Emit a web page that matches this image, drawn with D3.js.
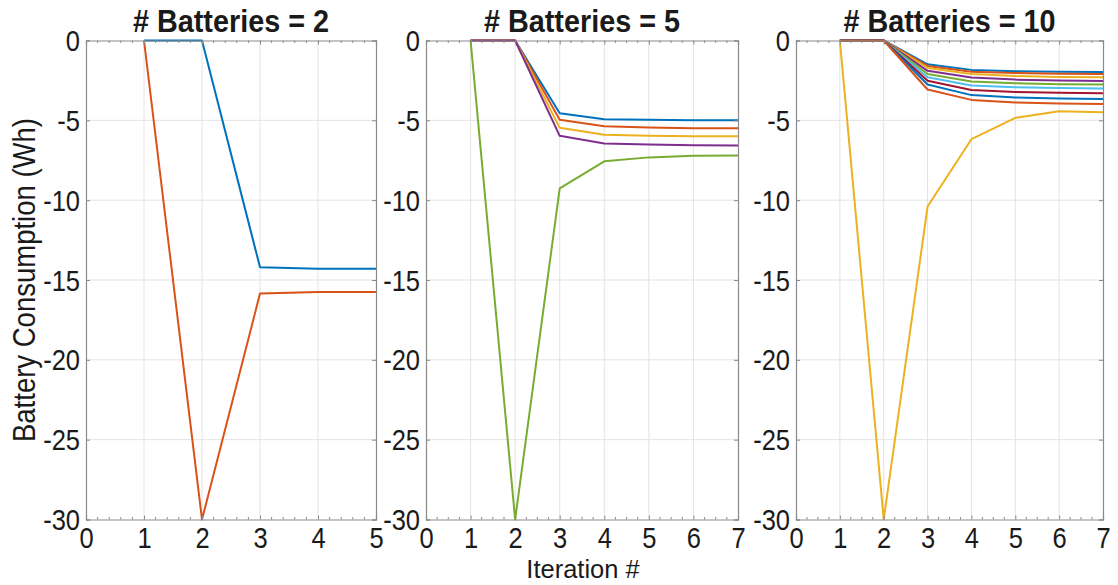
<!DOCTYPE html>
<html>
<head>
<meta charset="utf-8">
<script src="https://cdn.jsdelivr.net/npm/d3@7"></script>
<style>
  html, body { margin: 0; padding: 0; background: #fff; }
  svg text { font-family: "Liberation Sans", Arial, sans-serif; fill: #1a1a1a; }
</style>
</head>
<body>
<svg id="chart" width="1118" height="585"></svg>
<script>
// Battery consumption (Wh) per iteration for three fleet sizes
const iterations2 = [1, 2, 3, 4, 5];
const iterations5 = [1, 2, 3, 4, 5, 6, 7];
const iterations10 = [1, 2, 3, 4, 5, 6, 7];

const batteries2 = [
  [0, 0, -14.2, -14.3, -14.3],
  [0, -30, -15.85, -15.75, -15.75]
];

const batteries5 = [
  [0, 0, -4.55, -4.93, -4.97, -5.0, -5.0],
  [0, 0, -4.97, -5.37, -5.45, -5.49, -5.5],
  [0, 0, -5.47, -5.9, -5.96, -5.99, -6.0],
  [0, 0, -5.97, -6.45, -6.52, -6.56, -6.57],
  [0, -30, -9.26, -7.57, -7.32, -7.22, -7.2]
];

const batteries10 = [
  [0, 0, -1.49, -1.84, -1.92, -1.96, -1.97],
  [0, 0, -1.59, -1.95, -2.04, -2.08, -2.1],
  [0, 0, -1.72, -2.1, -2.23, -2.28, -2.3],
  [0, 0, -1.9, -2.32, -2.45, -2.51, -2.53],
  [0, 0, -2.1, -2.57, -2.68, -2.74, -2.76],
  [0, 0, -2.3, -2.82, -2.93, -2.98, -3.0],
  [0, 0, -2.52, -3.1, -3.22, -3.28, -3.3],
  [0, 0, -2.76, -3.42, -3.57, -3.64, -3.66],
  [0, 0, -3.07, -3.72, -3.88, -3.95, -3.97],
  [0, -30, -10.4, -6.18, -4.84, -4.43, -4.49]
];

const titles = ["# Batteries = 2", "# Batteries = 5", "# Batteries = 10"];
const xMax = [5, 7, 7];
const yTicks = [0, -5, -10, -15, -20, -25, -30];
const xLabel = "Iteration #";
const yLabel = "Battery Consumption (Wh)";

// MATLAB default line colour order
const colorOrder = ["#0072BD", "#D95319", "#EDB120", "#7E2F8E", "#77AC30", "#4DBEEE", "#A2142F"];

const panels = [
  { title: titles[0], xs: iterations2, series: batteries2, xMax: xMax[0], left: 86, right: 376, minorStep: 0.2 },
  { title: titles[1], xs: iterations5, series: batteries5, xMax: xMax[1], left: 426, right: 738, minorStep: 0.25 },
  { title: titles[2], xs: iterations10, series: batteries10, xMax: xMax[2], left: 796, right: 1103, minorStep: 0.25 }
];

const plotTop = 40.5, plotBottom = 519.5;
const svg = d3.select("#chart");

const y = d3.scaleLinear().domain([-30, 0]).range([plotBottom, plotTop]);

// horizontally narrow a text element about its own anchor point
function condense(sel, sx) {
  sel.each(function () {
    const t = d3.select(this);
    const x0 = +t.attr("x") || 0;
    t.attr("transform", `translate(${x0},0) scale(${sx},1) translate(${-x0},0)`);
  });
}

const tickFont = 29, tickSx = 0.88;

panels.forEach(p => {
  const x = d3.scaleLinear().domain([0, p.xMax]).range([p.left, p.right]);
  const g = svg.append("g");
  const xMajor = d3.range(0, p.xMax + 1);
  const xMinor = d3.range(0, p.xMax + 1e-9, p.minorStep).filter(v => Math.abs(v - Math.round(v)) > 1e-6);

  // grid
  g.append("g").selectAll("line").data(xMajor.slice(1, -1)).join("line")
    .attr("x1", d => x(d)).attr("x2", d => x(d)).attr("y1", plotTop).attr("y2", plotBottom)
    .attr("stroke", "#e3e3e3").attr("stroke-width", 1);
  g.append("g").selectAll("line").data(yTicks.slice(1, -1)).join("line")
    .attr("x1", p.left).attr("x2", p.right).attr("y1", d => y(d)).attr("y2", d => y(d))
    .attr("stroke", "#e3e3e3").attr("stroke-width", 1);

  // series
  const line = d3.line().x((d, i) => x(p.xs[i])).y(d => y(d));
  g.append("g").selectAll("path").data(p.series).join("path")
    .attr("d", d => line(d))
    .attr("fill", "none")
    .attr("stroke", (d, i) => colorOrder[i % colorOrder.length])
    .attr("stroke-width", 2)
    .attr("stroke-linejoin", "round");

  // axes with box
  const axisColor = "#8a8a8a";
  const tickLen = 4, minorLen = 2.5;
  const fmt = d => String(d);
  const ax = g.append("g");
  const bAxis = ax.append("g").attr("transform", `translate(0,${plotBottom})`)
    .call(d3.axisBottom(x).tickValues(xMajor).tickSize(-tickLen).tickFormat(fmt));
  const tAxis = ax.append("g").attr("transform", `translate(0,${plotTop})`)
    .call(d3.axisTop(x).tickValues(xMajor).tickSize(-tickLen).tickFormat(""));
  const lAxis = ax.append("g").attr("transform", `translate(${p.left},0)`)
    .call(d3.axisLeft(y).tickValues(yTicks).tickSize(-tickLen).tickPadding(6).tickFormat(fmt));
  const rAxis = ax.append("g").attr("transform", `translate(${p.right},0)`)
    .call(d3.axisRight(y).tickValues(yTicks).tickSize(-tickLen).tickFormat(""));
  [bAxis, tAxis, lAxis, rAxis].forEach(a => {
    a.select(".domain").attr("stroke", axisColor).attr("stroke-width", 1.2);
    a.selectAll(".tick line").attr("stroke", axisColor);
    a.selectAll("text").attr("font-size", tickFont).attr("fill", "#1a1a1a")
      .style("font-family", '"Liberation Sans", Arial, sans-serif');
  });
  bAxis.selectAll("text").attr("y", 29).attr("dy", null);
  lAxis.selectAll("text").attr("dy", "0.35em");
  condense(bAxis.selectAll("text"), tickSx);
  condense(lAxis.selectAll("text"), tickSx);

  // minor ticks on x
  [plotBottom, plotTop].forEach(yy => {
    const dir = yy === plotBottom ? -1 : 1;
    ax.append("g").selectAll("line").data(xMinor).join("line")
      .attr("x1", d => x(d)).attr("x2", d => x(d))
      .attr("y1", yy).attr("y2", yy + dir * minorLen)
      .attr("stroke", axisColor).attr("stroke-width", 1);
  });

  // title
  const title = g.append("text")
    .attr("x", (p.left + p.right) / 2).attr("y", 32)
    .attr("text-anchor", "middle")
    .attr("font-size", 32).attr("font-weight", "bold")
    .attr("fill", "#000")
    .text(p.title);
  condense(title, 0.9);
});

// shared labels
const xl = svg.append("text")
  .attr("x", 583).attr("y", 578)
  .attr("text-anchor", "middle").attr("font-size", 26)
  .text(xLabel);
condense(xl, 0.98);

const yl = svg.append("text")
  .attr("x", 0).attr("y", 0)
  .attr("text-anchor", "middle").attr("font-size", 32)
  .attr("transform", `translate(35,${(plotTop + plotBottom) / 2}) rotate(-90) scale(0.86,1)`)
  .text(yLabel);
</script>
</body>
</html>
